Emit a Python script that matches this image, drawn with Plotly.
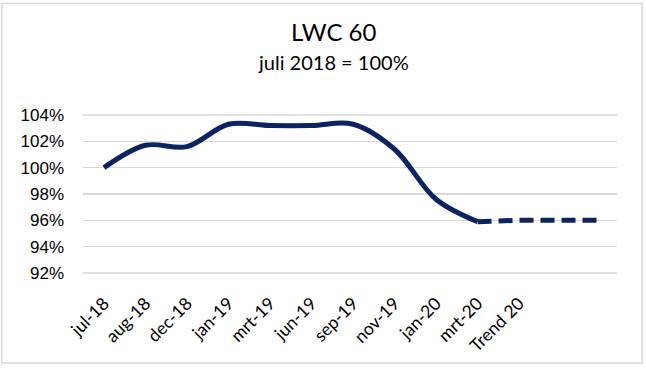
import plotly.graph_objects as go

# Category labels (13 slots; last two unlabeled, used by the trend line)
categories = ["jul-18", "aug-18", "dec-18", "jan-19", "mrt-19", "jun-19",
              "sep-19", "nov-19", "jan-20", "mrt-20", "Trend 20", "", ""]
# Main series (index relative to juli 2018 = 100%)
actual_values = [1.000, 1.017, 1.016, 1.033, 1.032, 1.032, 1.033, 1.014, 0.976, 0.959]
# Trend series (dashed), from mrt-20 onwards
trend_values = [0.959, 0.960, 0.960, 0.960]
trend_start = 9
y_ticks = [0.92, 0.94, 0.96, 0.98, 1.00, 1.02, 1.04]

navy = "#0B2461"

x_actual = list(range(len(actual_values)))
x_trend = list(range(trend_start, trend_start + len(trend_values)))

fig = go.Figure()
fig.add_trace(go.Scatter(
    x=x_actual, y=actual_values, mode="lines",
    line=dict(color=navy, width=5, shape="spline", smoothing=1.0),
    showlegend=False, hoverinfo="skip"))
fig.add_trace(go.Scatter(
    x=x_trend, y=trend_values, mode="lines",
    line=dict(color=navy, width=5, dash="14px,7px"),
    showlegend=False, hoverinfo="skip"))

fig.update_layout(
    width=646, height=368,
    margin=dict(l=83, r=29, t=115, b=93),
    paper_bgcolor="white", plot_bgcolor="white",
    font=dict(family="Lato", color="#000000"),
    xaxis=dict(
        range=[-0.506, 12.36],
        tickmode="array", tickvals=list(range(len(categories))), ticktext=categories,
        tickangle=-45, tickfont=dict(family="Lato", size=17.5, color="#000000"),
        showgrid=False, zeroline=False, showline=False,
        ticks="", ticklabelstandoff=16, fixedrange=True),
    yaxis=dict(
        range=[y_ticks[0], y_ticks[-1]],
        tickmode="array", tickvals=y_ticks, tickformat=".0%",
        tickfont=dict(family="Liberation Sans", size=17, color="#000000"),
        showgrid=True, gridcolor="#D9D9D9", gridwidth=1.5,
        zeroline=False, showline=False, ticks="", ticklabelstandoff=18,
        fixedrange=True),
    annotations=[
        dict(text="LWC 60", xref="paper", yref="paper", x=0.469, y=1.53,
             xanchor="center", yanchor="middle", showarrow=False,
             font=dict(family="Lato", size=24, color="#000000")),
        dict(text="juli 2018 = 100%", xref="paper", yref="paper", x=0.469, y=1.335,
             xanchor="center", yanchor="middle", showarrow=False,
             font=dict(family="Lato", size=20, color="#000000")),
    ],
    shapes=[
        dict(type="rect", xref="paper", yref="paper",
             x0=-0.152, x1=1.047, y0=-0.569, y1=1.706,
             line=dict(color="#D9D9D9", width=1.5), fillcolor="rgba(0,0,0,0)",
             layer="below"),
        dict(type="line", xref="paper", yref="paper",
             x0=0, x1=1, y0=0, y1=0,
             line=dict(color="#D9D9D9", width=1.5), layer="above"),
        dict(type="line", xref="paper", yref="paper",
             x0=0, x1=1, y0=1, y1=1,
             line=dict(color="#D9D9D9", width=1.5), layer="below"),
    ],
)

fig.write_html("out.html",
               config={"displayModeBar": False, "staticPlot": True},
               post_script="document.body.style.margin='0';document.body.style.overflow='hidden';")
